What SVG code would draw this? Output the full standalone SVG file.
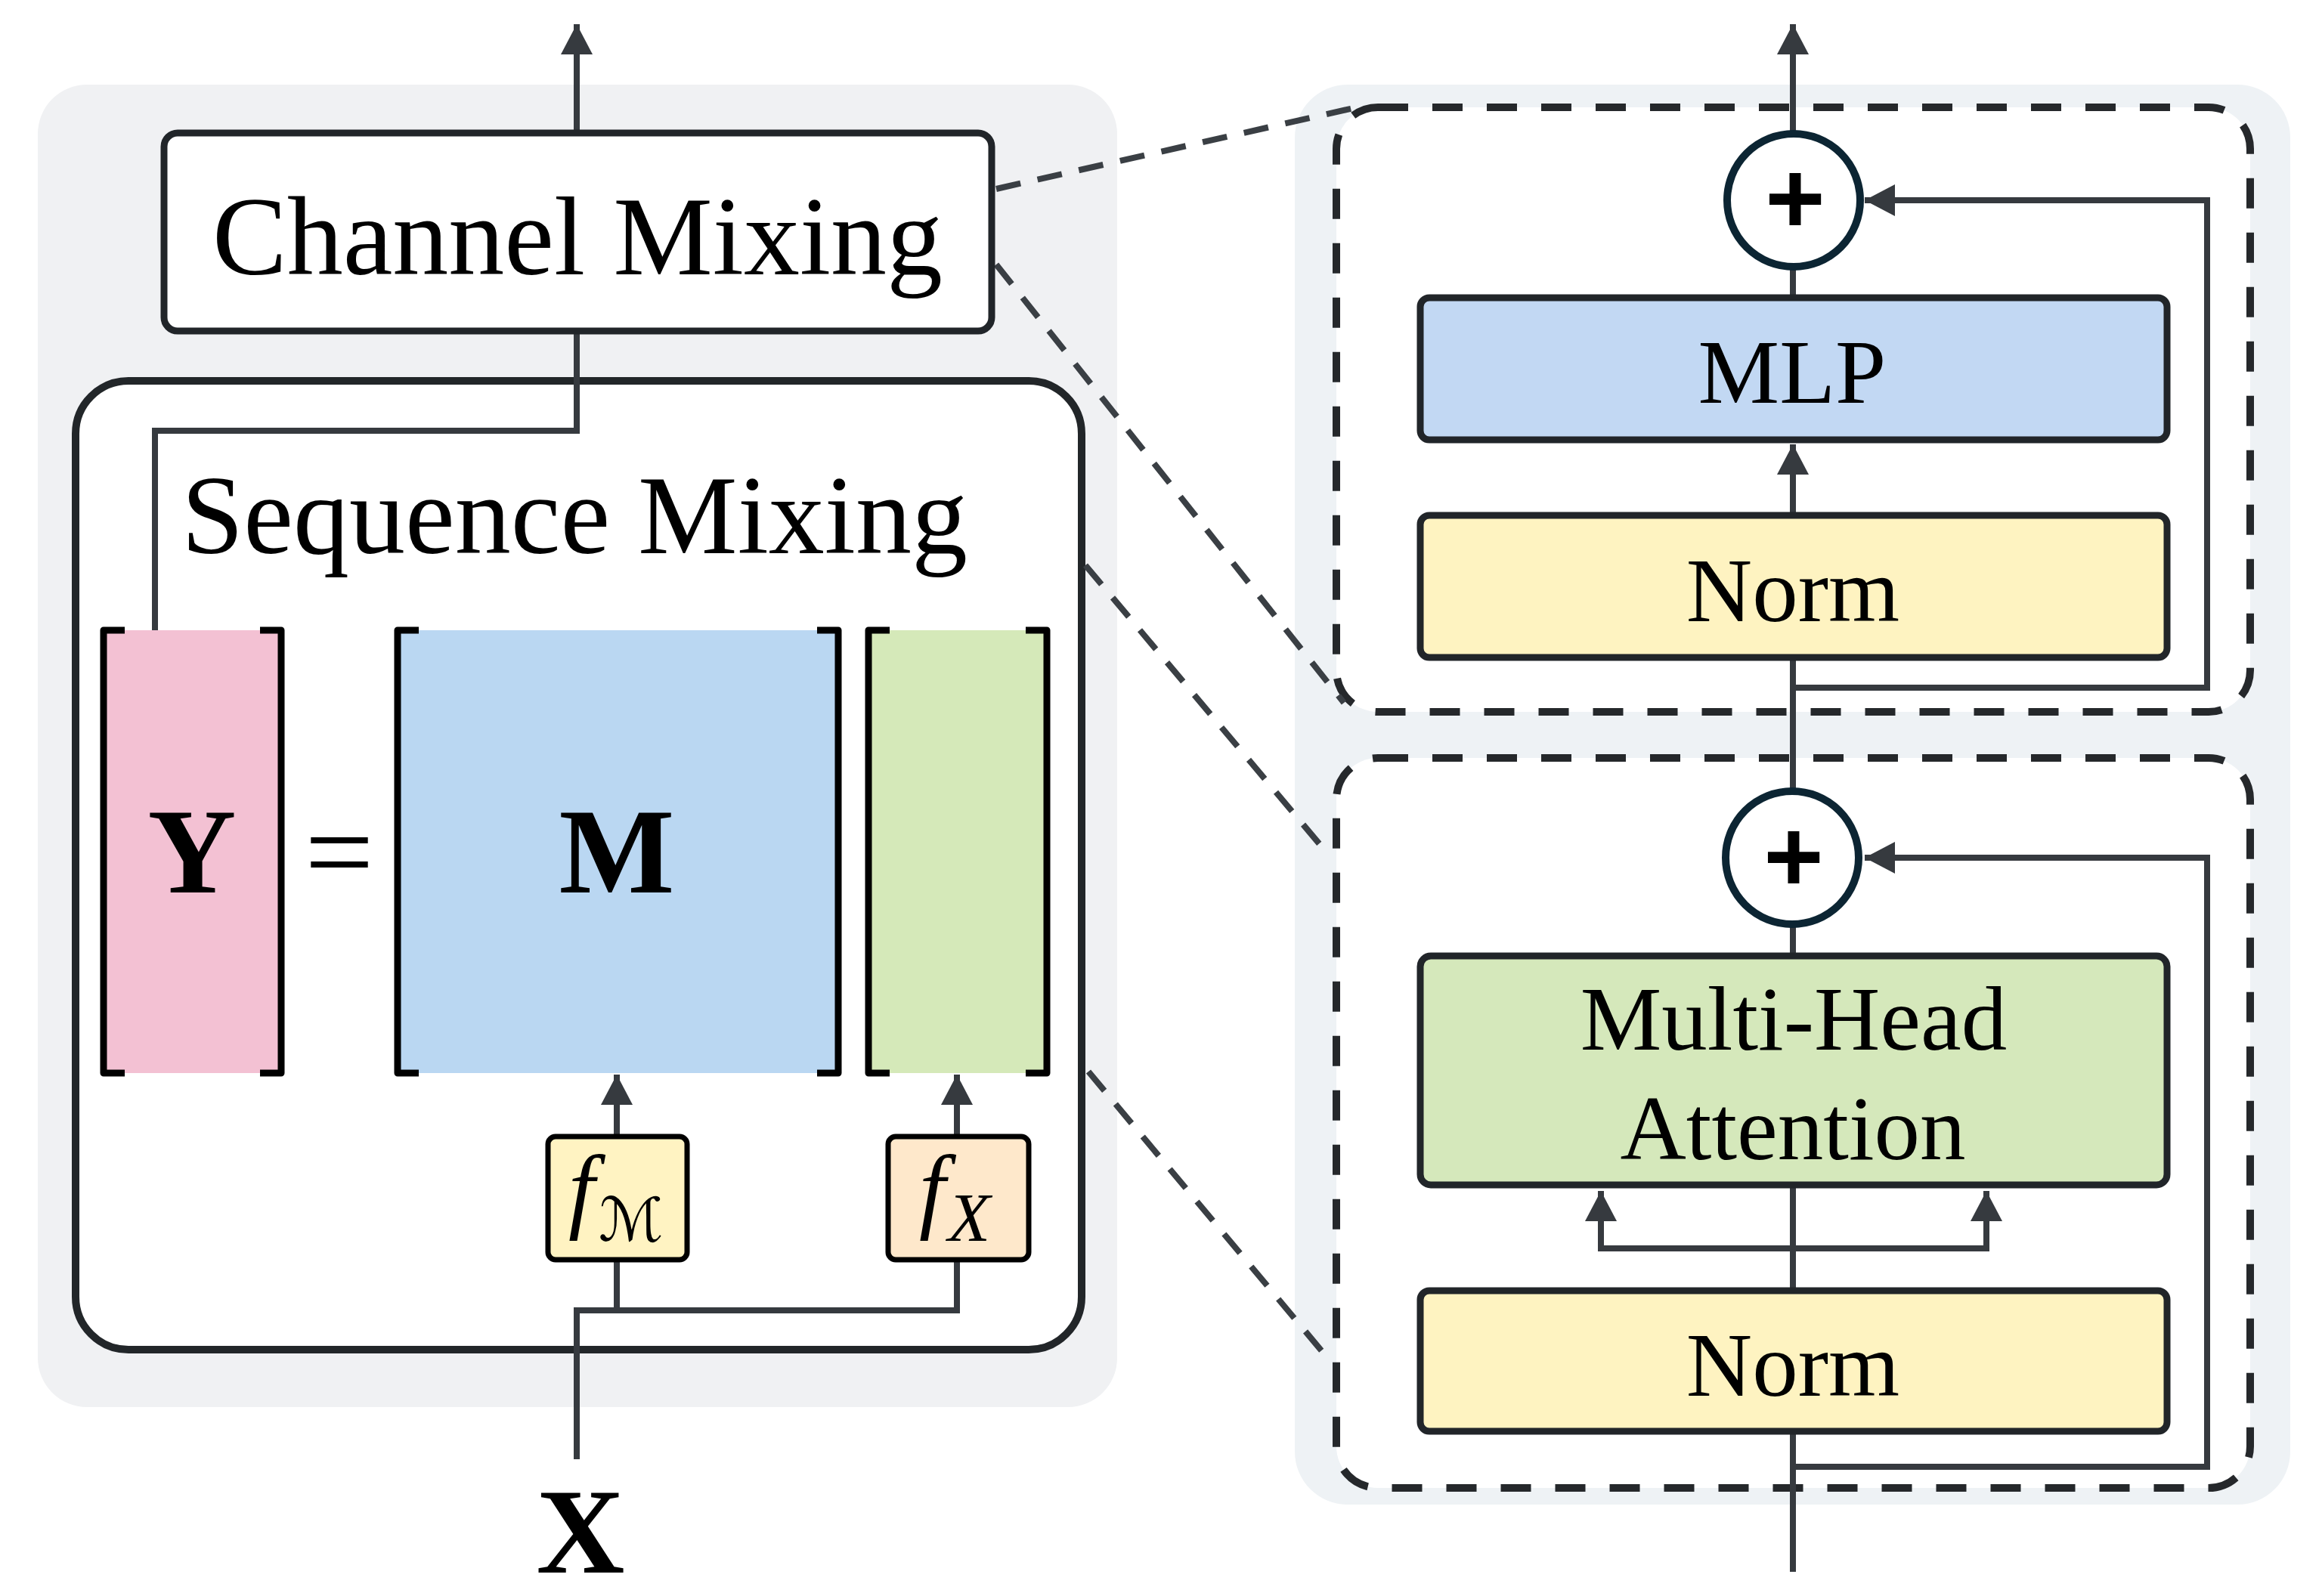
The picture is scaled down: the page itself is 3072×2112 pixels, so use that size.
<svg xmlns="http://www.w3.org/2000/svg" width="3072" height="2112" viewBox="0 0 3072 2112">
<defs>
<marker id="ah" markerUnits="userSpaceOnUse" markerWidth="40" markerHeight="42" viewBox="0 0 40 42" refX="40" refY="21" orient="auto"><path d="M0,0 L40,21 L0,42 z" fill="#363a3f"/></marker>
<style>
.txt{font-family:"Liberation Serif","Times New Roman",serif;fill:#000}
.box{stroke:#212529;stroke-width:9}
.con{fill:none;stroke:#363a3f;stroke-width:8}
.dash{fill:none;stroke:#3a3f44;stroke-width:8;stroke-dasharray:33 23}
.dbox{fill:#fff;stroke:#25282b;stroke-width:10;stroke-dasharray:40 32}
.brk{fill:none;stroke:#000;stroke-width:9;stroke-linejoin:round}
.plus{font-family:"Liberation Sans",Arial,sans-serif;font-weight:bold;font-size:136px;fill:#000}
</style>
</defs>
<rect width="3072" height="2112" fill="#fff"/>
<g id="left-panel">
<rect x="50" y="112" width="1428" height="1750" rx="65" fill="#f0f1f3"/>
</g>
<g id="right-panel">
<rect x="1713" y="112" width="1317" height="1879" rx="70" fill="#eef2f5"/>
</g>
<g id="sequence-mixing">
<rect x="100" y="504" width="1331" height="1282" rx="70" fill="#fff" stroke="#222629" stroke-width="10"/>
<text class="txt" x="760" y="732" font-size="148" text-anchor="middle">Sequence Mixing</text>
</g>
<g id="block-upper">
<rect class="dbox" x="1768" y="142" width="1209" height="800" rx="55"/>
</g>
<g id="block-lower">
<rect class="dbox" x="1768" y="1003" width="1209" height="966" rx="55"/>
</g>
<g id="connectors">
<line class="con" x1="763" y1="176" x2="763" y2="32" marker-end="url(#ah)"/>
<polyline class="con" points="763,438 763,570 205,570 205,834"/>
<polyline class="con" points="763,1931 763,1734 1266,1734 1266,1670"/>
<line class="con" x1="816" y1="1734" x2="816" y2="1670"/>
<line class="con" x1="816" y1="1501" x2="816" y2="1422" marker-end="url(#ah)"/>
<line class="con" x1="1266" y1="1501" x2="1266" y2="1422" marker-end="url(#ah)"/>
<line class="dash" x1="1318" y1="250" x2="1795" y2="142"/>
<line class="dash" x1="1318" y1="350" x2="1778" y2="930"/>
<line class="dash" x1="1436" y1="748" x2="1755" y2="1128"/>
<line class="dash" x1="1440" y1="1418" x2="1753" y2="1793"/>
<line class="con" x1="2372" y1="177" x2="2372" y2="32" marker-end="url(#ah)"/>
<line class="con" x1="2372" y1="353" x2="2372" y2="390"/>
<line class="con" x1="2372" y1="678" x2="2372" y2="588" marker-end="url(#ah)"/>
<line class="con" x1="2372" y1="874" x2="2372" y2="1047"/>
<polyline class="con" points="2372,910 2920,910 2920,265 2467,265" marker-end="url(#ah)"/>
<line class="con" x1="2372" y1="1223" x2="2372" y2="1261"/>
<line class="con" x1="2372" y1="1704" x2="2372" y2="1572"/>
<polyline class="con" points="2372,1652 2118,1652 2118,1576" marker-end="url(#ah)"/>
<polyline class="con" points="2372,1652 2628,1652 2628,1576" marker-end="url(#ah)"/>
<line class="con" x1="2372" y1="2080" x2="2372" y2="1898"/>
<polyline class="con" points="2372,1941 2920,1941 2920,1135 2467,1135" marker-end="url(#ah)"/>
</g>
<g id="channel-mixing">
<rect class="box" x="217" y="176" width="1095" height="262" rx="18" fill="#fff"/>
<text class="txt" x="764" y="363" font-size="148" text-anchor="middle">Channel Mixing</text>
</g>
<g id="matrix-Y">
<rect x="137" y="834" width="235" height="586" fill="#f3c1d3"/>
<path class="brk" stroke="#431424" d="M165,834 H137 V1420 H165 M344,834 H372 V1420 H344"/>
<text class="txt" x="254" y="1181" font-size="162" font-weight="bold" text-anchor="middle">Y</text>
</g>
<g id="equals">
<text class="txt" x="449" y="1181" font-size="162" text-anchor="middle">=</text>
</g>
<g id="matrix-M">
<rect x="526" y="834" width="583" height="586" fill="#bad7f2"/>
<path class="brk" d="M554,834 H526 V1420 H554 M1081,834 H1109 V1420 H1081"/>
<text class="txt" x="816" y="1181" font-size="162" font-weight="bold" text-anchor="middle">M</text>
</g>
<g id="matrix-X">
<rect x="1149" y="834" width="236" height="586" fill="#d5e9b9"/>
<path class="brk" d="M1177,834 H1149 V1420 H1177 M1357,834 H1385 V1420 H1357"/>
</g>
<g id="f-M">
<rect x="725" y="1504" width="184" height="163" rx="10" fill="#fff3c2" stroke="#000" stroke-width="7"/>
<text class="txt" x="752" y="1615" font-size="125" font-style="italic">f</text>
<text x="792" y="1642" font-size="80" font-style="italic" style="font-family:'DejaVu Serif','DejaVu Sans',serif">ℳ</text>
</g>
<g id="f-X">
<rect x="1175" y="1504" width="186" height="163" rx="10" fill="#fee8cb" stroke="#000" stroke-width="7"/>
<text class="txt" x="1216" y="1615" font-size="125" font-style="italic">f</text>
<text class="txt" x="1254" y="1642" font-size="92" font-style="italic">X</text>
</g>
<g id="input-X">
<text class="txt" x="768" y="2081" font-size="162" font-weight="bold" text-anchor="middle">X</text>
</g>
<g id="add-upper">
<circle cx="2373" cy="265" r="88" fill="#fff" stroke="#0c2533" stroke-width="10"/>
<text class="plus" x="2375" y="309" text-anchor="middle">+</text>
</g>
<g id="mlp">
<rect class="box" x="1879" y="394" width="988" height="188" rx="12" fill="#c2d8f3"/>
<text class="txt" x="2371" y="533" font-size="121" text-anchor="middle">MLP</text>
</g>
<g id="norm-upper">
<rect class="box" x="1879" y="682" width="988" height="188" rx="12" fill="#fef3c1"/>
<text class="txt" x="2372" y="822" font-size="121" text-anchor="middle">Norm</text>
</g>
<g id="add-lower">
<circle cx="2371" cy="1135" r="88" fill="#fff" stroke="#0c2533" stroke-width="10"/>
<text class="plus" x="2373" y="1180" text-anchor="middle">+</text>
</g>
<g id="mha">
<rect class="box" x="1879" y="1265" width="988" height="303" rx="14" fill="#d5e8bb"/>
<text class="txt" x="2373" y="1389" font-size="121" text-anchor="middle">Multi-Head</text>
<text class="txt" x="2372" y="1534" font-size="121" text-anchor="middle">Attention</text>
</g>
<g id="norm-lower">
<rect class="box" x="1879" y="1708" width="988" height="186" rx="12" fill="#fef3c1"/>
<text class="txt" x="2372" y="1847" font-size="121" text-anchor="middle">Norm</text>
</g>
</svg>
